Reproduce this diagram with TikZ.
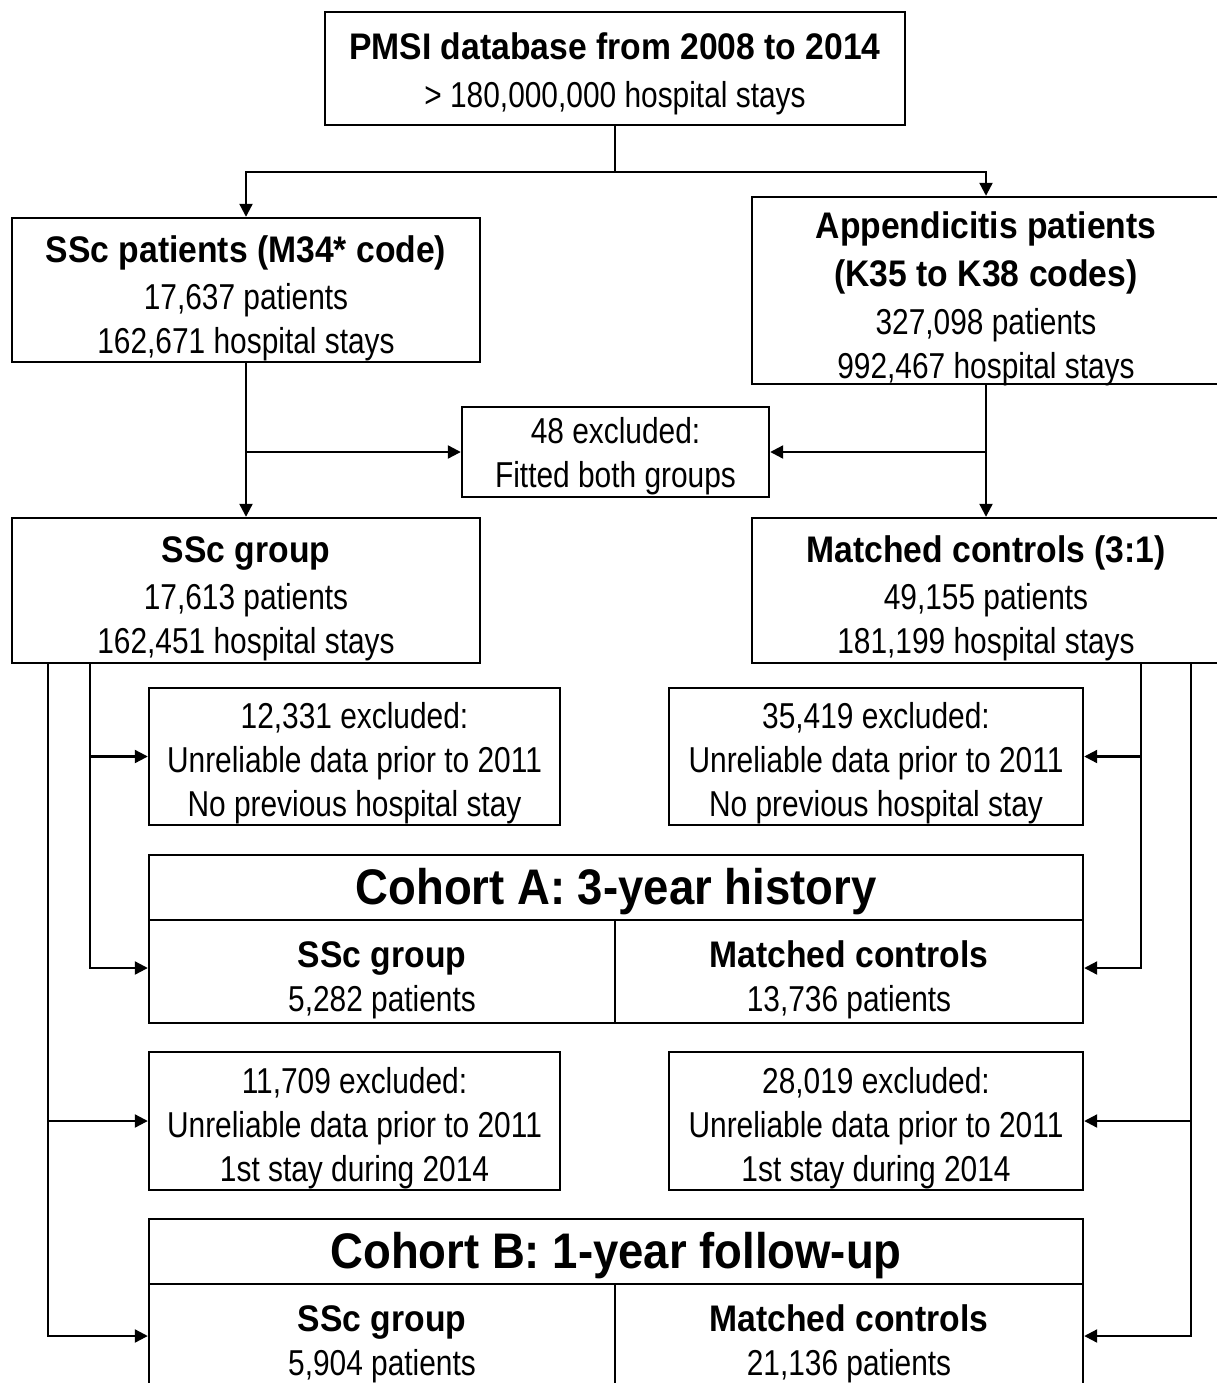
\documentclass[tikz,border=0pt]{standalone}
\usepackage{fontspec}
\setmainfont{Liberation Sans}[FakeStretch=0.83]
\newfontfamily\titrefont{Liberation Sans}[FakeStretch=0.91]
\usetikzlibrary{arrows.meta}
\tikzset{
  boite/.style={draw, line width=2.4pt, inner sep=0pt, align=center, font=\fontsize{36}{44}\selectfont,
    text depth=0pt},
  bandeau/.style={boite, text depth=2pt},
  trait/.style={line width=2.2pt},
  fleche/.style={trait, -{Triangle[length=13pt,width=13pt]}},
}
\newcommand{\haut}[1]{\rule{0pt}{#1}}
\newcommand{\titre}[2][35pt]{{\titrefont\bfseries\fontsize{37}{44}\selectfont\haut{#1}#2}}
\newcommand{\grandtitre}[1]{{\titrefont\bfseries\fontsize{50}{50}\selectfont #1}}

\begin{document}
\begin{tikzpicture}[x=1pt,y=-1pt]
	\useasboundingbox (0,0) rectangle (1217,1383);
	
	% Base de depart
	\node[boite, minimum width=580pt, minimum height=113pt] (pmsi) at (615,68.5)
		{\titre[31pt]{PMSI database from 2008 to 2014}\\[4pt] > 180,000,000 hospital stays};
	
	% Deux populations
	\node[boite, minimum width=468pt, minimum height=144pt] (ssc) at (246,290)
		{\titre{SSc patients (M34* code)}\\[3pt] 17,637 patients\\ 162,671 hospital stays};
	\node[boite, minimum width=468pt, minimum height=187pt] (app) at (986,290.5)
		{\titre{Appendicitis patients}\\[4pt] \titre{(K35 to K38 codes)}\\[4pt] 327,098 patients\\ 992,467 hospital stays};
	\node[boite, minimum width=307pt, minimum height=90pt] (excl) at (615.5,452)
		{48 excluded:\\ Fitted both groups};
	
	% Groupes apparies
	\node[boite, minimum width=468pt, minimum height=145pt] (sscgrp) at (246,590.5)
		{\titre{SSc group}\\[3pt] 17,613 patients\\ 162,451 hospital stays};
	\node[boite, minimum width=468pt, minimum height=145pt] (ctrl) at (986,590.5)
		{\titre{Matched controls (3:1)}\\[3pt] 49,155 patients\\ 181,199 hospital stays};
	
	% Exclusions cohorte A
	\node[boite, minimum width=411pt, minimum height=137pt] (exAssc) at (354.5,756.5)
		{\haut{32pt}12,331 excluded:\\ Unreliable data prior to 2011\\ No previous hospital stay};
	\node[boite, minimum width=414pt, minimum height=137pt] (exActrl) at (876,756.5)
		{\haut{32pt}35,419 excluded:\\ Unreliable data prior to 2011\\ No previous hospital stay};
	
	% Cohorte A
	\node[bandeau, minimum width=934pt, minimum height=65pt] (cohA) at (616,887.5)
		{\grandtitre{Cohort A: 3-year history}};
	\node[boite, minimum width=466pt, minimum height=103pt] (cohAssc) at (382,971.5)
		{\titre{SSc group}\\ 5,282 patients};
	\node[boite, minimum width=468pt, minimum height=103pt] (cohActrl) at (849,971.5)
		{\titre{Matched controls}\\ 13,736 patients};
	
	% Exclusions cohorte B
	\node[boite, minimum width=411pt, minimum height=138pt] (exBssc) at (354.5,1121)
		{\haut{32pt}11,709 excluded:\\ Unreliable data prior to 2011\\ 1st stay during 2014};
	\node[boite, minimum width=414pt, minimum height=138pt] (exBctrl) at (876,1121)
		{\haut{32pt}28,019 excluded:\\ Unreliable data prior to 2011\\ 1st stay during 2014};
	
	% Cohorte B
	\node[bandeau, minimum width=934pt, minimum height=65pt] (cohB) at (616,1251.5)
		{\grandtitre{Cohort B: 1-year follow-up}};
	\node[boite, minimum width=466pt, minimum height=103pt] (cohBssc) at (382,1335.5)
		{\titre{SSc group}\\ 5,904 patients};
	\node[boite, minimum width=468pt, minimum height=103pt] (cohBctrl) at (849,1335.5)
		{\titre{Matched controls}\\ 21,136 patients};
	
	% Points de branchement
	\coordinate (split) at (615,172);
	\coordinate (gA) at (90,663);
	\coordinate (gB) at (48,663);
	\coordinate (dA) at (1141,663);
	\coordinate (dB) at (1191,663);
	
	% Connecteurs du haut
	\draw[trait] (pmsi.south) -- (split);
	\draw[fleche] (split) -| (ssc);
	\draw[fleche] (split) -| (app);
	\draw[fleche] (ssc) -- (sscgrp);
	\draw[fleche] (app) -- (ctrl);
	\draw[fleche] (ssc.south |- excl.west) -- (excl.west);
	\draw[fleche] (app.south |- excl.east) -- (excl.east);
	
	% Connecteurs gauche
	\draw[fleche] (gA) |- (cohAssc.west |- 0,968);
	\draw[fleche] (gA |- exAssc.west) -- (exAssc.west);
	\draw[fleche] (gB) |- (cohBssc.west |- 0,1336);
	\draw[fleche] (gB |- exBssc.west) -- (exBssc.west);
	
	% Connecteurs droite
	\draw[fleche] (dA) |- (cohActrl.east |- 0,968);
	\draw[fleche] (dA |- exActrl.east) -- (exActrl.east);
	\draw[fleche] (dB) |- (cohBctrl.east |- 0,1336);
	\draw[fleche] (dB |- exBctrl.east) -- (exBctrl.east);
\end{tikzpicture}
\end{document}
